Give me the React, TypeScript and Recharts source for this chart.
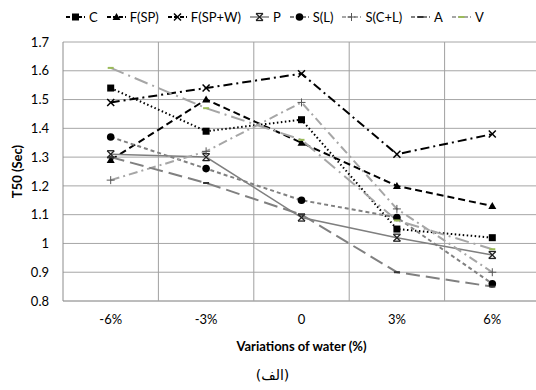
import React from "react";
import {
  LineChart, Line, XAxis, YAxis, CartesianGrid, ReferenceLine,
} from "recharts";

const categories = ["-6%", "-3%", "0", "3%", "6%"];
const yTicks = [0.8, 0.9, 1, 1.1, 1.2, 1.3, 1.4, 1.5, 1.6, 1.7];

const C = [1.54, 1.39, 1.43, 1.05, 1.02];
const FSP = [1.29, 1.5, 1.35, 1.2, 1.13];
const FSPW = [1.49, 1.54, 1.59, 1.31, 1.38];
const P = [1.31, 1.3, 1.09, 1.02, 0.96];
const SL = [1.37, 1.26, 1.15, 1.09, 0.86];
const SCL = [1.22, 1.32, 1.49, 1.12, 0.9];
const A = [1.3, 1.21, 1.1, 0.9, 0.85];
const V = [1.61, 1.47, 1.36, 1.08, 0.98];

const rows = categories.map((c, i) => ({
  x: i,
  C: C[i],
  FSP: FSP[i],
  FSPW: FSPW[i],
  P: P[i],
  SL: SL[i],
  SCL: SCL[i],
  A: A[i],
  V: V[i],
}));

// category boundaries, Excel-style gridlines sit between the points
const boundaries = categories.map((_, i) => i + 0.5);

type Marker = "square" | "triangle" | "x" | "star" | "circle" | "plus" | "dash";

function drawMarker(kind: Marker, cx: number, cy: number, color: string, key?: any) {
  switch (kind) {
    case "square":
      return <rect key={key} x={cx - 3.5} y={cy - 3.5} width={7} height={7} fill={color} />;
    case "triangle":
      return <polygon key={key} points={`${cx},${cy - 4} ${cx - 4},${cy + 3} ${cx + 4},${cy + 3}`} fill={color} />;
    case "x":
      return (
        <g key={key} stroke={color} strokeWidth={1.5}>
          <line x1={cx - 3.5} y1={cy - 3.5} x2={cx + 3.5} y2={cy + 3.5} />
          <line x1={cx - 3.5} y1={cy + 3.5} x2={cx + 3.5} y2={cy - 3.5} />
        </g>
      );
    case "star":
      return (
        <g key={key} stroke={color} strokeWidth={1.3}>
          <line x1={cx - 3.5} y1={cy - 3.5} x2={cx + 3.5} y2={cy + 3.5} />
          <line x1={cx - 3.5} y1={cy + 3.5} x2={cx + 3.5} y2={cy - 3.5} />
          <line x1={cx - 3.5} y1={cy - 3.5} x2={cx + 3.5} y2={cy - 3.5} />
          <line x1={cx - 3.5} y1={cy + 3.5} x2={cx + 3.5} y2={cy + 3.5} />
        </g>
      );
    case "circle":
      return <circle key={key} cx={cx} cy={cy} r={3.8} fill={color} />;
    case "plus":
      return (
        <g key={key} stroke={color} strokeWidth={1}>
          <line x1={cx - 4} y1={cy} x2={cx + 4} y2={cy} />
          <line x1={cx} y1={cy - 4} x2={cx} y2={cy + 4} />
        </g>
      );
    default:
      return <line key={key} x1={cx - 3} y1={cy} x2={cx + 3} y2={cy} stroke={color} strokeWidth={2} />;
  }
}

const series = [
  { key: "C", name: "C", stroke: "#000", width: 2, dash: "1.5 2.5", marker: "square" as Marker, markerColor: "#000" },
  { key: "FSP", name: "F(SP)", stroke: "#000", width: 2, dash: "7 4", marker: "triangle" as Marker, markerColor: "#000" },
  { key: "FSPW", name: "F(SP+W)", stroke: "#000", width: 2, dash: "9 4 2 4", marker: "x" as Marker, markerColor: "#000" },
  { key: "P", name: "P", stroke: "#7f7f7f", width: 1.5, dash: undefined, marker: "star" as Marker, markerColor: "#222" },
  { key: "SL", name: "S(L)", stroke: "#808080", width: 2, dash: "4 3", marker: "circle" as Marker, markerColor: "#000" },
  { key: "SCL", name: "S(C+L)", stroke: "#a6a6a6", width: 2, dash: "9 4 2 4", marker: "plus" as Marker, markerColor: "#555" },
  { key: "A", name: "A", stroke: "#808080", width: 2, dash: "14 6", marker: "dash" as Marker, markerColor: "#333" },
  { key: "V", name: "V", stroke: "#a6a6a6", width: 2, dash: "14 5 2 5", marker: "dash" as Marker, markerColor: "#9bbb59" },
];

const font = "Lato, 'Open Sans', sans-serif";

function LegendRow() {
  return (
    <div
      style={{
        position: "absolute", top: 9, left: 66, display: "flex", alignItems: "center",
        fontFamily: font, fontSize: 13, color: "#000", whiteSpace: "nowrap",
      }}
    >
      {series.map((s) => (
        <div key={s.key} style={{ display: "flex", alignItems: "center", marginRight: 9 }}>
          <svg width={19} height={10} style={{ marginRight: 4 }}>
            <line x1={0} y1={5} x2={19} y2={5} stroke={s.stroke} strokeWidth={s.width} strokeDasharray={s.dash ? "4 2" : undefined} />
            {drawMarker(s.marker, 9.5, 5, s.markerColor)}
          </svg>
          <span>{s.name}</span>
        </div>
      ))}
    </div>
  );
}

export default function App() {
  return (
    <div style={{ position: "absolute", left: 0, top: 0, width: 536, height: 390, overflow: "hidden", background: "#fff" }}>
      <LegendRow />
      <LineChart width={545} height={390} data={rows} margin={{ top: 42, right: 5, bottom: 34, left: 0 }}>
        <CartesianGrid vertical={false} stroke="#a6a6a6" />
        {boundaries.map((b) => (
          <ReferenceLine key={b} x={b} stroke="#a0a0a0" strokeWidth={1} />
        ))}
        <XAxis
          type="number"
          dataKey="x"
          height={55}
          domain={[-0.5, categories.length - 0.5]}
          ticks={categories.map((_, i) => i)}
          tickFormatter={(v: number) => categories[v]}
          axisLine={{ stroke: "#a6a6a6" }}
          tickLine={false}
          tickMargin={8}
          tick={{ fontSize: 13, fill: "#000", fontFamily: font }}
          label={{ value: "Variations of water (%)", position: "insideBottom", offset: 5, style: { fontSize: 13, fontWeight: 700, fill: "#000", fontFamily: font } }}
        />
        <YAxis
          width={63}
          domain={[0.8, 1.7]}
          ticks={yTicks}
          tickFormatter={(v: number) => String(+v.toFixed(1))}
          axisLine={{ stroke: "#8c8c8c" }}
          tickLine={false}
          tickMargin={8}
          tick={{ fontSize: 13, fill: "#000", fontFamily: font }}
          label={{ value: "T50 (Sec)", angle: -90, position: "insideLeft", offset: 17, style: { fontSize: 13, fontWeight: 700, fill: "#000", fontFamily: font, textAnchor: "middle" } }}
        />
        {series.map((s) => (
          <Line
            key={s.key}
            dataKey={s.key}
            name={s.name}
            type="linear"
            stroke={s.stroke}
            strokeWidth={s.width}
            strokeDasharray={s.dash}
            isAnimationActive={false}
            dot={(p: any) => drawMarker(s.marker, p.cx, p.cy, s.markerColor, `${s.key}-${p.index}`)}
            activeDot={false}
          />
        ))}
      </LineChart>
      <div
        style={{
          position: "absolute", top: 367, left: 0, width: 545, textAlign: "center",
          fontFamily: "'DejaVu Sans', sans-serif", fontSize: 14, color: "#000",
        }}
      >
        (الف)
      </div>
    </div>
  );
}
